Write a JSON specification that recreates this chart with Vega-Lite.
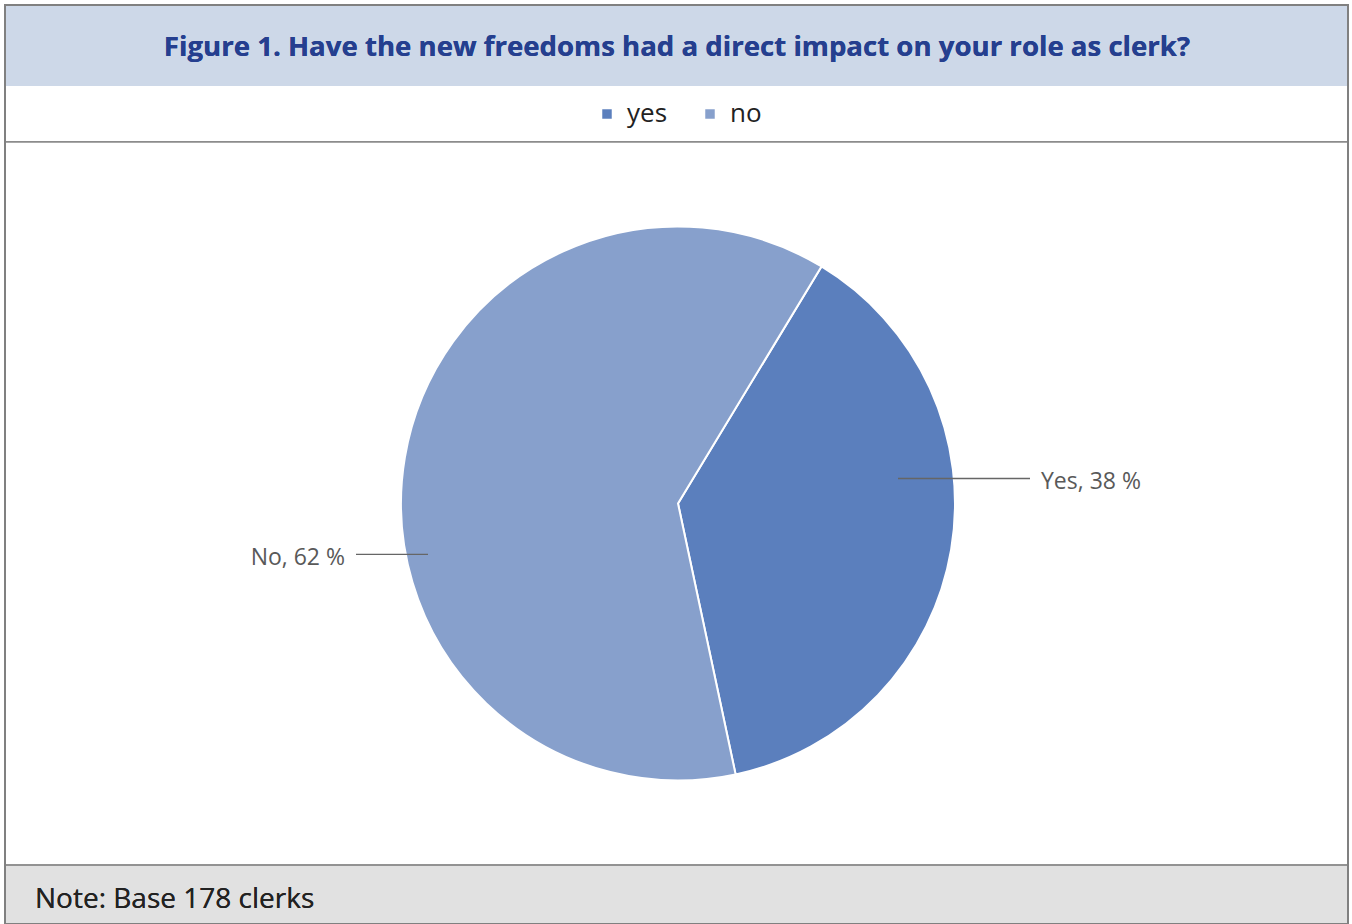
{
  "$schema": "https://vega.github.io/schema/vega-lite/v6.json",
  "width": 1352,
  "height": 924,
  "autosize": {"type": "fit", "contains": "padding"},
  "padding": 0,
  "background": "white",
  "config": {"view": {"stroke": null}, "font": "Open Sans"},
  "data": {"values": [
    {"answer": "yes", "percent": 38, "label": "Yes, 38 %"},
    {"answer": "no", "percent": 62, "label": "No, 62 %"}
  ]},
  "encoding": {},
  "layer": [
    {
      "mark": {"type": "rect", "fill": "white", "stroke": "#808080", "strokeWidth": 2},
      "encoding": {
        "x": {"datum": 5, "type": "quantitative", "scale": {"domain": [0, 1352], "nice": false, "zero": false}, "axis": null},
        "x2": {"datum": 1348},
        "y": {"datum": 5, "type": "quantitative", "scale": {"domain": [0, 924], "nice": false, "zero": false, "reverse": true}, "axis": null},
        "y2": {"datum": 924}
      }
    },
    {
      "mark": {"type": "rect", "fill": "#cdd8e8"},
      "encoding": {"x": {"datum": 6}, "x2": {"datum": 1347}, "y": {"datum": 6}, "y2": {"datum": 86}}
    },
    {
      "mark": {"type": "rule", "stroke": "#8c8c8c", "strokeWidth": 1.5},
      "encoding": {"x": {"datum": 6}, "x2": {"datum": 1347}, "y": {"datum": 142}}
    },
    {
      "mark": {"type": "rect", "fill": "#e1e1e1"},
      "encoding": {"x": {"datum": 6}, "x2": {"datum": 1347}, "y": {"datum": 866}, "y2": {"datum": 924}}
    },
    {
      "mark": {"type": "rule", "stroke": "#8c8c8c", "strokeWidth": 1.5},
      "encoding": {"x": {"datum": 6}, "x2": {"datum": 1347}, "y": {"datum": 866}}
    },
    {
      "mark": {"type": "text", "text": "Figure 1. Have the new freedoms had a direct impact on your role as clerk?", "font": "Open Sans", "fontWeight": "bold", "fontSize": 27.6, "fill": "#253f8f", "align": "center", "baseline": "middle"},
      "encoding": {"x": {"datum": 677}, "y": {"datum": 48}}
    },
    {
      "mark": {"type": "text", "text": "Note: Base 178 clerks", "font": "Open Sans", "fontSize": 28, "fill": "#222222", "align": "left", "baseline": "middle"},
      "encoding": {"x": {"datum": 35}, "y": {"datum": 901}}
    },
    {
      "mark": {"type": "arc", "outerRadius": 277, "stroke": "white", "strokeWidth": 2},
      "encoding": {
        "x": {"datum": 678},
        "y": {"datum": 504},
        "theta": {"field": "percent", "type": "quantitative", "stack": true, "scale": {"range": [0.5445, 6.8277]}},
        "order": {"field": "percent", "type": "quantitative", "sort": "ascending"},
        "color": {
          "field": "answer", "type": "nominal",
          "scale": {"domain": ["yes", "no"], "range": ["#5b7fbd", "#87a0cc"]},
          "legend": {
            "title": null, "orient": "none", "direction": "horizontal",
            "legendX": 594, "legendY": 101,
            "symbolType": "square", "symbolSize": 90, "symbolStrokeWidth": 0,
            "labelFontSize": 26, "labelFont": "Open Sans", "labelColor": "#222222",
            "labelOffset": 7, "columnPadding": 29
          }
        }
      }
    },
    {
      "transform": [{"filter": "datum.answer === 'yes'"}],
      "mark": {"type": "rule", "stroke": "#666666", "strokeWidth": 1.3},
      "encoding": {"x": {"datum": 898}, "x2": {"datum": 1030}, "y": {"datum": 479}}
    },
    {
      "transform": [{"filter": "datum.answer === 'no'"}],
      "mark": {"type": "rule", "stroke": "#666666", "strokeWidth": 1.3},
      "encoding": {"x": {"datum": 356}, "x2": {"datum": 428}, "y": {"datum": 555}}
    },
    {
      "transform": [{"filter": "datum.answer === 'yes'"}],
      "mark": {"type": "text", "font": "Open Sans", "fontSize": 23, "fill": "#595959", "align": "left", "baseline": "middle"},
      "encoding": {"x": {"datum": 1041}, "y": {"datum": 483}, "text": {"field": "label"}}
    },
    {
      "transform": [{"filter": "datum.answer === 'no'"}],
      "mark": {"type": "text", "font": "Open Sans", "fontSize": 23, "fill": "#595959", "align": "right", "baseline": "middle"},
      "encoding": {"x": {"datum": 345}, "y": {"datum": 559}, "text": {"field": "label"}}
    }
  ]
}
